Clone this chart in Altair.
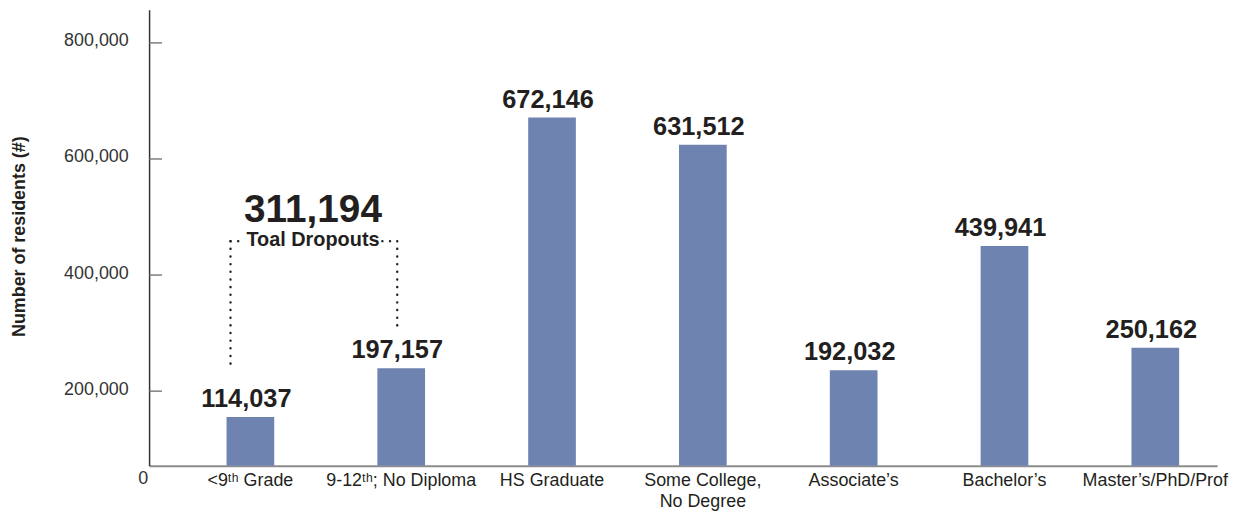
import altair as alt
import pandas as pd

# ---- data ----
categories = [
    "<9ᵗʰ Grade",
    "9-12ᵗʰ; No Diploma",
    "HS Graduate",
    "Some College,|No Degree",
    "Associate’s",
    "Bachelor’s",
    "Master’s/PhD/Prof",
]
# bar heights as drawn in the picture
bar_values = [155500, 239400, 671400, 624700, 236000, 450000, 274700]
# numbers printed above the bars
label_values = [114037, 197157, 672146, 631512, 192032, 439941, 250162]

y_ticks = [200000, 400000, 600000, 800000]
y_domain = [71557, 857314]

# dropout bracket annotation (in data units)
dropout_total = "311,194"
dropout_caption = "Toal Dropouts"
bracket_top = 458444
bracket_left_bottom = 242746
bracket_right_bottom = 312933
total_label_y = 490972
caption_y = 449885

# ---- styling ----
FONT = "Liberation Sans"
TXT = "#231f20"
BAR = "#6f83b1"
W, H = 1075, 459

df = pd.DataFrame({
    "category": categories,
    "bar_value": bar_values,
    "label": [f"{v:,}" for v in label_values],
})

x_scale = alt.Scale(domain=categories, paddingInner=0.6838, paddingOuter=0.3827,
                    align=0.671, round=False)
y_scale = alt.Scale(domain=y_domain, nice=False, zero=False)

x_axis = alt.Axis(
    title=None, labelAngle=0, ticks=False, domainColor="#8c8c8c", domainWidth=2,
    labelFont=FONT, labelFontSize=18, labelColor=TXT, labelPadding=6,
    labelLineHeight=21.5, labelLimit=400,
    labelExpr="split(datum.label, '|')",
)
y_axis = alt.Axis(
    values=y_ticks, format=",", grid=False, ticks=False,
    domainColor="#333333", domainWidth=1.5,
    labelFont=FONT, labelFontSize=18, labelColor="#333333", labelPadding=21,
    labelOffset=-2, labelBaseline="middle",
    labelExpr="format(datum.value, ',')",
    title="Number of residents (#)", titleFont=FONT, titleFontSize=18,
    titleFontWeight="bold", titleColor=TXT, titleAngle=270,
    titleX=-130, titleY=228, titleAlign="center", titleBaseline="middle",
)


def X():
    return alt.X("category:N", sort=categories, scale=x_scale, axis=x_axis)


def Y(field):
    return alt.Y(field, scale=y_scale, axis=y_axis)


bars = alt.Chart(df).mark_bar(color=BAR).encode(
    x=X(),
    y=Y("bar_value:Q"),
    y2=alt.datum(y_domain[0]),
)

labels = alt.Chart(df).mark_text(
    font=FONT, fontSize=25.5, fontWeight="bold", color=TXT,
    baseline="alphabetic", dy=-10, dx=-4,
).encode(x=X(), y=Y("bar_value:Q"), text="label:N")

tick_df = pd.DataFrame({"tick": y_ticks})
ticks = alt.Chart(tick_df).mark_rule(color="#6a6a6a", strokeWidth=1.3).encode(
    y=Y("tick:Q"),
    x=alt.value(0), x2=alt.value(13),
)

zero_df = pd.DataFrame({"t": ["0"]})
zero = alt.Chart(zero_df).mark_text(
    font=FONT, fontSize=18, color="#333333", baseline="middle", align="center"
).encode(x=alt.value(-6), y=alt.value(H + 13), text="t:N")

dot = dict(color=TXT, strokeDash=[0.1, 7.6], strokeCap="round", strokeWidth=2.4)

left_df = pd.DataFrame({"category": [categories[0]], "top": [bracket_top],
                        "bottom": [bracket_left_bottom]})
right_df = pd.DataFrame({"category": [categories[1]], "top": [bracket_top],
                         "bottom": [bracket_right_bottom]})

left_v = alt.Chart(left_df).mark_rule(xOffset=-20, **dot).encode(
    x=X(), y=Y("top:Q"), y2="bottom:Q")
right_v = alt.Chart(right_df).mark_rule(xOffset=-4, **dot).encode(
    x=X(), y=Y("top:Q"), y2="bottom:Q")
left_h = alt.Chart(left_df).mark_rule(xOffset=-20, x2Offset=-7, **dot).encode(
    x=X(), x2="category:N", y=Y("top:Q"))
right_h = alt.Chart(right_df).mark_rule(xOffset=-19, x2Offset=-4, **dot).encode(
    x=X(), x2="category:N", y=Y("top:Q"))

ann_df = pd.DataFrame({
    "category": [categories[0], categories[0]],
    "y": [total_label_y, caption_y],
    "text": [dropout_total, dropout_caption],
})
total_txt = alt.Chart(ann_df.iloc[[0]]).mark_text(
    font=FONT, fontSize=39, fontWeight="bold", color=TXT,
    baseline="alphabetic", align="center", dx=63,
).encode(x=X(), y=Y("y:Q"), text="text:N")
caption_txt = alt.Chart(ann_df.iloc[[1]]).mark_text(
    font=FONT, fontSize=20, fontWeight="bold", color=TXT,
    baseline="alphabetic", align="center", dx=63,
).encode(x=X(), y=Y("y:Q"), text="text:N")

chart = alt.layer(
    bars, labels, ticks, zero, left_v, right_v, left_h, right_h, total_txt, caption_txt
).properties(
    width=W, height=H,
    background="white",
    padding={"left": 142, "top": 0, "right": 20, "bottom": 47},
    autosize=alt.AutoSizeParams(type="none"),
).configure_view(strokeWidth=0, stroke="transparent")

chart.save("out.html", embed_options={"renderer": "svg", "actions": False})
